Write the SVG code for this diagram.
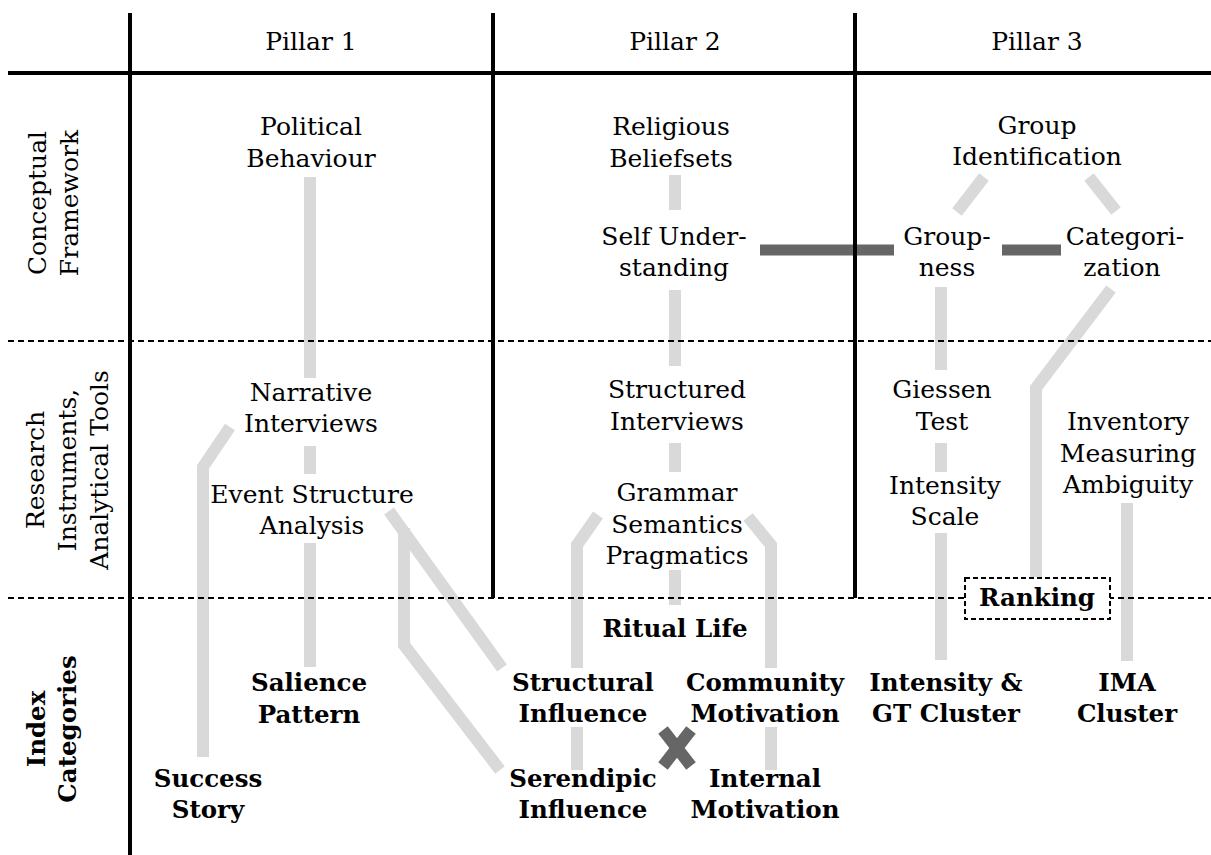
<svg xmlns="http://www.w3.org/2000/svg" width="1211" height="855" viewBox="0 0 1211 855">
<style>
text{font-family:'DejaVu Serif','Liberation Serif',serif;font-size:25px;fill:#000;text-anchor:middle}
.b{font-weight:bold;font-size:24.5px}
.g{fill:none;stroke:#d9d9d9;stroke-width:12;stroke-linejoin:miter;stroke-linecap:butt}
.d{fill:none;stroke:#666;stroke-width:11;stroke-linecap:butt}
.grid{stroke:#000;stroke-width:4;fill:none}
.dash{stroke:#000;stroke-width:2;stroke-dasharray:6 4;fill:none}
</style>
<rect width="1211" height="855" fill="#fff"/>
<g id="connectors">
<line class="g" x1="310" y1="177" x2="310" y2="378"/>
<line class="g" x1="310" y1="446" x2="310" y2="474"/>
<line class="g" x1="310" y1="543" x2="310" y2="667"/>
<polyline class="g" points="230,427 203,467 203,757"/>
<line class="g" x1="389" y1="511" x2="502" y2="668"/>
<polyline class="g" points="404,528 404,645 500,770"/>
<line class="g" x1="675" y1="175" x2="675" y2="210"/>
<line class="g" x1="675" y1="290" x2="675" y2="366"/>
<line class="g" x1="675" y1="443" x2="675" y2="472"/>
<line class="g" x1="675" y1="570" x2="675" y2="605"/>
<polyline class="g" points="598,515 577,545 577,668"/>
<line class="g" x1="577" y1="727" x2="577" y2="770"/>
<polyline class="g" points="748,517 771,545 771,668"/>
<line class="g" x1="771" y1="727" x2="771" y2="770"/>
<line class="g" x1="984" y1="177" x2="957" y2="212"/>
<line class="g" x1="1089" y1="177" x2="1116" y2="211"/>
<line class="g" x1="941" y1="287" x2="941" y2="370"/>
<line class="g" x1="941" y1="443" x2="941" y2="472"/>
<line class="g" x1="941" y1="533" x2="941" y2="660"/>
<polyline class="g" points="1111,289 1036,388 1036,577"/>
<line class="g" x1="1127" y1="503" x2="1127" y2="661"/>
<line class="d" x1="760" y1="250" x2="894" y2="250"/>
<line class="d" x1="1002" y1="250" x2="1061" y2="250"/>
<g id="cross">
<line class="d" x1="663" y1="730" x2="691" y2="766" style="stroke-width:12"/>
<line class="d" x1="691" y1="730" x2="663" y2="766" style="stroke-width:12"/>
</g>
</g>
<g id="grid">
<line class="dash" x1="8" y1="341" x2="1211" y2="341"/>
<line class="dash" x1="8" y1="598" x2="1211" y2="598"/>
<line class="grid" x1="8" y1="73" x2="1211" y2="73"/>
<line class="grid" x1="130" y1="13" x2="130" y2="855"/>
<line class="grid" x1="493" y1="13" x2="493" y2="598"/>
<line class="grid" x1="855" y1="13" x2="855" y2="598"/>
</g>
<g id="headers">
<text x="311" y="50">Pillar 1</text>
<text x="675" y="50">Pillar 2</text>
<text x="1037" y="50">Pillar 3</text>
<text transform="translate(46,203) rotate(-90)">Conceptual<tspan x="0" dy="32">Framework</tspan></text>
<text transform="translate(44,470) rotate(-90)">Research<tspan x="0" dy="32">Instruments,</tspan><tspan x="0" dy="32">Analytical Tools</tspan></text>
<text class="b" transform="translate(45,729) rotate(-90)">Index<tspan x="0" dy="31">Categories</tspan></text>
</g>
<g id="political-behaviour"><text x="311" y="135">Political<tspan x="311" dy="32">Behaviour</tspan></text></g>
<g id="religious-beliefsets"><text x="671" y="135">Religious<tspan x="671" dy="32">Beliefsets</tspan></text></g>
<g id="group-identification"><text x="1037" y="134">Group<tspan x="1037" dy="31">Identification</tspan></text></g>
<g id="self-understanding"><text x="674" y="245">Self Under-<tspan x="674" dy="31">standing</tspan></text></g>
<g id="groupness"><text x="947" y="245">Group-<tspan x="947" dy="31">ness</tspan></text></g>
<g id="categorization"><text x="1125" y="245">Categori-<tspan x="1122" dy="31">zation</tspan></text></g>
<g id="narrative-interviews"><text x="311" y="401">Narrative<tspan x="311" dy="31">Interviews</tspan></text></g>
<g id="event-structure-analysis"><text x="312" y="503">Event Structure<tspan x="312" dy="31">Analysis</tspan></text></g>
<g id="structured-interviews"><text x="677" y="398">Structured<tspan x="677" dy="32">Interviews</tspan></text></g>
<g id="grammar"><text x="677" y="501">Grammar<tspan x="677" dy="32">Semantics</tspan><tspan x="677" dy="31">Pragmatics</tspan></text></g>
<g id="giessen-test"><text x="942" y="398">Giessen<tspan x="942" dy="32">Test</tspan></text></g>
<g id="intensity-scale"><text x="945" y="494">Intensity<tspan x="945" dy="31">Scale</tspan></text></g>
<g id="inventory"><text x="1128" y="430">Inventory<tspan x="1128" dy="32">Measuring</tspan><tspan x="1128" dy="31">Ambiguity</tspan></text></g>
<g id="ranking">
<rect x="965" y="578" width="145" height="41" fill="#fff" stroke="#000" stroke-width="2" stroke-dasharray="5 3"/>
<text class="b" x="1037" y="606">Ranking</text>
</g>
<g id="ritual-life"><text class="b" x="675" y="637">Ritual Life</text></g>
<g id="salience-pattern"><text class="b" x="309" y="691">Salience<tspan x="309" dy="32">Pattern</tspan></text></g>
<g id="structural-influence"><text class="b" x="583" y="691">Structural<tspan x="583" dy="31">Influence</tspan></text></g>
<g id="community-motivation"><text class="b" x="765" y="691">Community<tspan x="765" dy="31">Motivation</tspan></text></g>
<g id="intensity-gt-cluster"><text class="b" x="946" y="691">Intensity &amp;<tspan x="946" dy="31">GT Cluster</tspan></text></g>
<g id="ima-cluster"><text class="b" x="1127" y="691">IMA<tspan x="1127" dy="31">Cluster</tspan></text></g>
<g id="success-story"><text class="b" x="208" y="787">Success<tspan x="208" dy="31">Story</tspan></text></g>
<g id="serendipic-influence"><text class="b" x="583" y="787">Serendipic<tspan x="583" dy="31">Influence</tspan></text></g>
<g id="internal-motivation"><text class="b" x="765" y="787">Internal<tspan x="765" dy="31">Motivation</tspan></text></g>
</svg>
